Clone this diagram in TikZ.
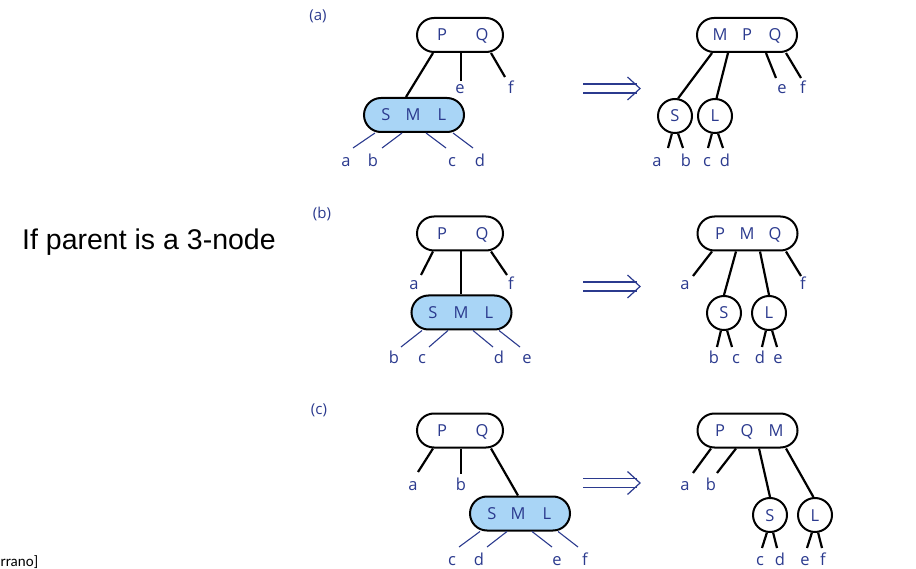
\documentclass[tikz,border=0pt]{standalone}
\usepackage{fontspec}
\setmainfont{Open Sans}
\newfontfamily\arialfont{Liberation Sans}
\newfontfamily\calibrifont{Carlito}
\usetikzlibrary{shapes.misc,calc}
\definecolor{ink}{HTML}{2B3A8E}
\definecolor{keyfill}{HTML}{A9D5F6}
\tikzset{
  twokey/.style={draw=black, line width=2pt, rounded rectangle, minimum width=100pt, minimum height=34pt, inner sep=0pt},
  smallkey/.style={twokey, minimum width=86pt},
  split/.style={twokey, fill=keyfill},
  onekey/.style={draw=black, line width=2pt, circle, minimum size=34pt, inner sep=0pt},
  key/.style={text=ink, font=\fontsize{16.5}{18}\selectfont, anchor=base, inner sep=0pt},
  leaf/.style={key},
  edge/.style={draw=black, line width=2.2pt},
  thin/.style={draw=ink, line width=1.1pt},
  tag/.style={text=ink, font=\fontsize{15}{16}\selectfont, inner sep=0pt},
  implies/.style={draw=ink, line width=1.2pt},
}
\newcommand{\implarrow}[1]{%
  \draw[implies] (583,#1-4.5) -- (637,#1-4.5);
  \draw[implies] (583,#1+4.5) -- (637,#1+4.5);
  \draw[implies, line join=miter] (627.5,#1-11.5) -- (640,#1) -- (627.5,#1+11.5);
}
\begin{document}
\begin{tikzpicture}[x=1pt,y=-1pt]
\useasboundingbox (0,0) rectangle (916,569);

% side captions
\node[font=\arialfont\fontsize{28.5}{30}\selectfont, anchor=base west, inner sep=0pt] (title) at (22,250) {If parent is a 3-node};
\node[font=\calibrifont\fontsize{15}{16}\selectfont, anchor=base east, inner sep=0pt] (src) at (38.5,566) {rrano]};

% ---------------- (a) ----------------
\node[tag] (ta) at (318,16) {(a)};
\node[smallkey] (pqA) at (460,35) {};
\node[key] (pqAp) at (442,41) {P};
\node[key] (pqAq) at (482,41) {Q};
\node[split, minimum width=100pt] (smlA) at (414,115) {};
\node[key] at (386,121) {S};
\node[key] at (413,121) {M};
\node[key] at (442,121) {L};
\coordinate (aAe) at (461,81);
\coordinate (aAf) at (505,77);
\draw[edge] ([xshift=-27pt]pqA.south) -- ([xshift=-8pt]smlA.north);
\draw[edge] ([xshift=1pt]pqA.south) -- (aAe);
\draw[edge] ([xshift=31pt]pqA.south) -- (aAf);
\node[leaf] at (460,94) {e};
\node[leaf] at (511,94) {f};
\coordinate (aA1) at (353,148);
\coordinate (aA2) at (382,148);
\coordinate (aA3) at (446,148);
\coordinate (aA4) at (473,148);
\draw[thin] ([xshift=-39pt]smlA.south) -- (aA1);
\draw[thin] ([xshift=-12pt]smlA.south) -- (aA2);
\draw[thin] ([xshift=12pt]smlA.south) -- (aA3);
\draw[thin] ([xshift=39pt]smlA.south) -- (aA4);
\node[leaf] at (346,167) {a};
\node[leaf] at (373,167) {b};
\node[leaf] at (452,167) {c};
\node[leaf] at (480,167) {d};

\implarrow{88.5}

\node[twokey] (mpqA) at (747,35) {};
\node[key] at (720,41) {M};
\node[key] at (747,41) {P};
\node[key] at (775,41) {Q};
\node[onekey] (sA) at (675,116) {};
\node[key] at (675,122) {S};
\node[onekey] (lA) at (715,116) {};
\node[key] at (715,122) {L};
\draw[edge] ([xshift=-35pt]mpqA.south) -- (sA.80);
\draw[edge] ([xshift=-19pt]mpqA.south) -- (lA.85);
\coordinate (bAe) at (776,78);
\coordinate (bAf) at (801,78);
\draw[edge] ([xshift=19pt]mpqA.south) -- (bAe);
\draw[edge] ([xshift=39pt]mpqA.south) -- (bAf);
\node[leaf] at (782,94) {e};
\node[leaf] at (803,94) {f};
\coordinate (bA1) at (668,148);
\coordinate (bA2) at (683,148);
\coordinate (bA3) at (708,148);
\coordinate (bA4) at (723,148);
\draw[edge] (sA.260) -- (bA1);
\draw[edge] (sA.280) -- (bA2);
\draw[edge] (lA.260) -- (bA3);
\draw[edge] (lA.280) -- (bA4);
\node[leaf] at (657,167) {a};
\node[leaf] at (686,167) {b};
\node[leaf] at (707,167) {c};
\node[leaf] at (725,167) {d};

% ---------------- (b) ----------------
\node[tag] (tb) at (322,214) {(b)};
\node[smallkey] (pqB) at (460,233.5) {};
\node[key] at (442,239.5) {P};
\node[key] at (482,239.5) {Q};
\node[split] (smlB) at (461.5,312.5) {};
\node[key] at (433,318.5) {S};
\node[key] at (461,318.5) {M};
\node[key] at (489,318.5) {L};
\coordinate (aBa) at (421,275);
\coordinate (aBf) at (507,275);
\draw[edge] ([xshift=-27pt]pqB.south) -- (aBa);
\draw[edge] ([xshift=1pt]pqB.south) -- ([xshift=-0.5pt]smlB.north);
\draw[edge] ([xshift=31pt]pqB.south) -- (aBf);
\node[leaf] at (414,290) {a};
\node[leaf] at (511,290) {f};
\coordinate (aB1) at (401,347);
\coordinate (aB2) at (429,347);
\coordinate (aB3) at (493,347);
\coordinate (aB4) at (520,347);
\draw[thin] ([xshift=-39.5pt]smlB.south) -- (aB1);
\draw[thin] ([xshift=-13.5pt]smlB.south) -- (aB2);
\draw[thin] ([xshift=11.5pt]smlB.south) -- (aB3);
\draw[thin] ([xshift=37.5pt]smlB.south) -- (aB4);
\node[leaf] at (394,363) {b};
\node[leaf] at (422,363) {c};
\node[leaf] at (499,363) {d};
\node[leaf] at (527,363) {e};

\implarrow{286.5}

\node[twokey] (pmqB) at (747.5,233.5) {};
\node[key] at (720,239.5) {P};
\node[key] at (747,239.5) {M};
\node[key] at (775,239.5) {Q};
\node[onekey] (sB) at (724,313) {};
\node[key] at (724,319) {S};
\node[onekey] (lB) at (769,313) {};
\node[key] at (769,319) {L};
\coordinate (bBa) at (693,276);
\coordinate (bBf) at (801,276);
\draw[edge] ([xshift=-35.5pt]pmqB.south) -- (bBa);
\draw[edge] ([xshift=-11.5pt]pmqB.south) -- (sB.north);
\draw[edge] ([xshift=12.5pt]pmqB.south) -- (lB.north);
\draw[edge] ([xshift=38.5pt]pmqB.south) -- (bBf);
\node[leaf] at (685,290) {a};
\node[leaf] at (803,290) {f};
\coordinate (bB1) at (717,347);
\coordinate (bB2) at (732,347);
\coordinate (bB3) at (762,347);
\coordinate (bB4) at (777,347);
\draw[edge] (sB.260) -- (bB1);
\draw[edge] (sB.280) -- (bB2);
\draw[edge] (lB.260) -- (bB3);
\draw[edge] (lB.280) -- (bB4);
\node[leaf] at (714,363) {b};
\node[leaf] at (736,363) {c};
\node[leaf] at (760,363) {d};
\node[leaf] at (778,363) {e};

% ---------------- (c) ----------------
\node[tag] (tc) at (319,410) {(c)};
\node[smallkey] (pqC) at (460,430.5) {};
\node[key] at (442,436.5) {P};
\node[key] at (482,436.5) {Q};
\node[split] (smlC) at (520,513.5) {};
\node[key] at (492,519.5) {S};
\node[key] at (518,519.5) {M};
\node[key] at (547,519.5) {L};
\coordinate (aCa) at (418,472);
\coordinate (aCb) at (461,474);
\draw[edge] ([xshift=-27pt]pqC.south) -- (aCa);
\draw[edge] ([xshift=1pt]pqC.south) -- (aCb);
\draw[edge] ([xshift=31pt]pqC.south) -- ([xshift=-2pt]smlC.north);
\node[leaf] at (413,490) {a};
\node[leaf] at (461,490) {b};
\coordinate (aC1) at (459,547);
\coordinate (aC2) at (487,547);
\coordinate (aC3) at (552,547);
\coordinate (aC4) at (578,547);
\draw[thin] ([xshift=-40pt]smlC.south) -- (aC1);
\draw[thin] ([xshift=-13pt]smlC.south) -- (aC2);
\draw[thin] ([xshift=12pt]smlC.south) -- (aC3);
\draw[thin] ([xshift=38pt]smlC.south) -- (aC4);
\node[leaf] at (452,565) {c};
\node[leaf] at (479,565) {d};
\node[leaf] at (557,565) {e};
\node[leaf] at (585,565) {f};

\implarrow{483}

\node[twokey] (pqmC) at (747.5,430.5) {};
\node[key] at (720,436.5) {P};
\node[key] at (747,436.5) {Q};
\node[key] at (776,436.5) {M};
\node[onekey] (sC) at (770,515) {};
\node[key] at (770,521) {S};
\node[onekey] (lC) at (815,515) {};
\node[key] at (815,521) {L};
\coordinate (bCa) at (693,473);
\coordinate (bCb) at (717,473);
\draw[edge] ([xshift=-36.5pt]pqmC.south) -- (bCa);
\draw[edge] ([xshift=-11.5pt]pqmC.south) -- (bCb);
\draw[edge] ([xshift=11.5pt]pqmC.south) -- (sC.north);
\draw[edge] ([xshift=38.5pt]pqmC.south) -- (lC.95);
\node[leaf] at (685,490) {a};
\node[leaf] at (711,490) {b};
\coordinate (bC1) at (762,548);
\coordinate (bC2) at (777,548);
\coordinate (bC3) at (807,548);
\coordinate (bC4) at (822,548);
\draw[edge] (sC.260) -- (bC1);
\draw[edge] (sC.280) -- (bC2);
\draw[edge] (lC.260) -- (bC3);
\draw[edge] (lC.280) -- (bC4);
\node[leaf] at (760,565) {c};
\node[leaf] at (780,565) {d};
\node[leaf] at (805,565) {e};
\node[leaf] at (823,565) {f};
\end{tikzpicture}
\end{document}
